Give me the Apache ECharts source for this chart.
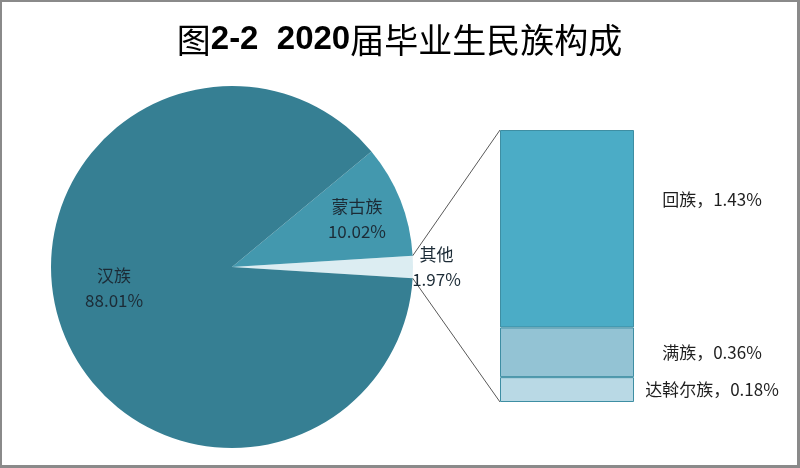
<!DOCTYPE html>
<html>
<head>
<meta charset="utf-8">
<script src="https://cdn.jsdelivr.net/npm/echarts@6/dist/echarts.min.js"></script>
<style>
  html, body { margin: 0; padding: 0; background: #fff; }
  #main { width: 800px; height: 468px; box-sizing: border-box; border: 2px solid #8a8a8a; border-right-width: 3px; border-bottom-width: 3px; }
</style>
</head>
<body>
<div id="main"></div>
<script>
// pie: main groups (percent)
var pieNames = ["其他", "蒙古族", "汉族"];
var pieValues = [1.97, 10.02, 88.01];
var pieColors = ["#DCEDF2", "#4398AE", "#367F93"];

// bar: breakdown of "其他", bottom to top
var subNames = ["达斡尔族", "满族", "回族"];
var subValues = [0.18, 0.36, 1.43];
var subColors = ["#B9D9E5", "#93C3D4", "#4BACC6"];

var textFont = "'Noto Sans CJK SC', 'Noto Sans', sans-serif";
var pieCenter = [230, 265];
var pieRadius = 181;
var gridBox = { left: 498, top: 128, width: 134, height: 272 };

var dom = document.getElementById("main");
var myChart = echarts.init(dom, null, { renderer: "canvas" });

var pieTotal = pieValues.reduce(function (a, b) { return a + b; }, 0);
var subTotal = subValues.reduce(function (a, b) { return a + b; }, 0);
// put the "其他" slice centred on the right side
var halfOther = pieValues[0] / pieTotal * 360 / 2;

// label nudges for the pie (px)
var pieLabelShift = [[111, 0], [38, -14], [-29, -8]];

var pieData = pieNames.map(function (n, i) {
  return { name: n, value: pieValues[i], itemStyle: { color: pieColors[i] } };
});

var barSeries = subNames.map(function (n, i) {
  return {
    name: n,
    type: "bar",
    stack: "other",
    barWidth: "100%",
    data: [subValues[i]],
    itemStyle: { color: subColors[i], borderColor: "#3E8EA3", borderWidth: 1 },
    label: {
      show: true,
      position: [212, i === 2 ? "35%" : "50%"],
      align: "center",
      verticalAlign: "middle",
      fontFamily: textFont,
      fontSize: 17,
      color: "#1f1f1f",
      formatter: n + "，" + subValues[i].toFixed(2) + "%"
    }
  };
});

// connector lines from the "其他" slice edge to the bar corners
var a = halfOther * Math.PI / 180;
var edgeX = pieCenter[0] + pieRadius * Math.cos(a);
var edgeTop = pieCenter[1] - pieRadius * Math.sin(a);
var edgeBot = pieCenter[1] + pieRadius * Math.sin(a);
var barTopY = gridBox.top;
var barBotY = gridBox.top + gridBox.height;
var barLeftX = gridBox.left;

var option = {
  animation: false,
  title: {
    text: "{a|图}{b|2-2  2020}{a|届毕业生民族构成}",
    left: "center",
    top: 16,
    textStyle: {
      rich: {
        a: { fontFamily: textFont, fontWeight: "normal", fontSize: 34, color: "#000" },
        b: { fontFamily: "'Liberation Sans', sans-serif", fontWeight: "bold", fontSize: 33, color: "#000" }
      }
    }
  },
  grid: gridBox,
  xAxis: { type: "category", data: ["其他"], show: false },
  yAxis: { type: "value", min: 0, max: subTotal, show: false },
  graphic: [
    { type: "line", shape: { x1: edgeX, y1: edgeTop, x2: barLeftX, y2: barTopY }, style: { stroke: "#595959", lineWidth: 1 } },
    { type: "line", shape: { x1: edgeX, y1: edgeBot, x2: barLeftX, y2: barBotY }, style: { stroke: "#595959", lineWidth: 1 } }
  ],
  series: [
    {
      type: "pie",
      center: pieCenter,
      radius: pieRadius,
      clockwise: false,
      startAngle: -halfOther,
      data: pieData,
      label: {
        show: true,
        position: "inside",
        fontFamily: textFont,
        fontSize: 17,
        lineHeight: 25,
        color: "#1c2b36",
        formatter: function (p) { return p.name + "\n" + p.value.toFixed(2) + "%"; }
      },
      labelLayout: function (params) {
        var s = pieLabelShift[params.dataIndex];
        return { dx: s[0], dy: s[1] };
      },
      labelLine: { show: false },
      emphasis: { disabled: true }
    }
  ].concat(barSeries)
};

myChart.setOption(option);

window.addEventListener("resize", myChart.resize);
</script>
</body>
</html>
